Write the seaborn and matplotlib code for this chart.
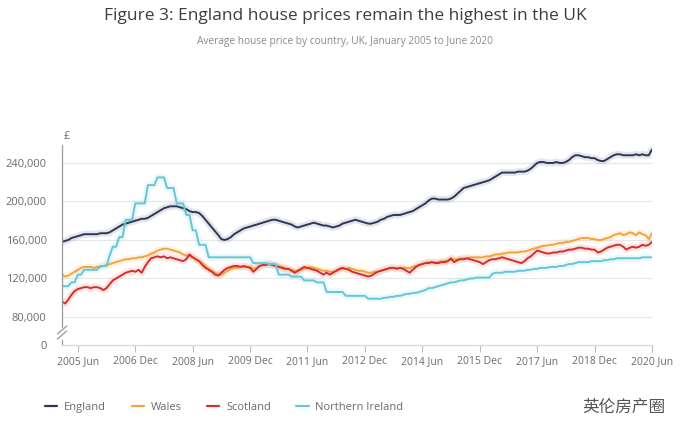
import pandas as pd
import numpy as np
import seaborn as sns
import matplotlib.pyplot as plt
from matplotlib.lines import Line2D

# average house price, thousands of pounds, monthly Jan 2005 - Jun 2020
england = [158, 159, 160, 162, 163, 164, 165, 166, 166, 166, 166, 166,
           167, 167, 167, 168, 170, 172, 174, 176, 177, 178, 179, 180,
           181, 182, 182, 183, 185, 187, 189, 191, 193, 194, 195, 195,
           195, 194, 193, 192, 190, 189, 189, 188, 185, 181, 177, 173,
           169, 165, 161, 160, 161, 163, 166, 168, 170, 172, 173, 174,
           175, 176, 177, 178, 179, 180, 181, 181, 180, 179, 178, 177,
           176, 174, 173, 174, 175, 176, 177, 178, 177, 176, 175, 175,
           174, 173, 174, 175, 177, 178, 179, 180, 181, 180, 179, 178,
           177, 177, 178, 179, 181, 182, 184, 185, 186, 186, 186, 187,
           188, 189, 190, 192, 194, 196, 198, 201, 203, 203, 202, 202,
           202, 202, 203, 205, 208, 211, 214, 215, 216, 217, 218, 219,
           220, 221, 222, 224, 226, 228, 230, 230, 230, 230, 230, 231,
           231, 231, 232, 234, 237, 240, 241, 241, 240, 240, 240, 241,
           240, 240, 241, 243, 246, 248, 248, 247, 246, 246, 245, 245,
           243, 242, 242, 244, 246, 248, 249, 249, 248, 248, 248, 248,
           249, 248, 249, 248, 248, 254]
wales = [124, 122, 123, 125, 127, 129, 131, 132, 132, 132, 131, 132,
         132, 133, 134, 135, 136, 137, 138, 139, 140, 140, 141, 141,
         142, 142, 143, 144, 146, 147, 149, 150, 151, 151, 150, 149,
         148, 147, 145, 144, 143, 142, 140, 138, 136, 133, 130, 128,
         126, 124, 124, 126, 128, 130, 131, 131, 132, 132, 132, 132,
         130, 131, 133, 134, 135, 135, 134, 134, 133, 132, 131, 130,
         129, 128, 128, 129, 130, 131, 132, 131, 130, 129, 128, 128,
         127, 127, 128, 129, 130, 130, 131, 130, 129, 128, 128, 127,
         126, 126, 127, 127, 128, 129, 130, 131, 131, 131, 131, 131,
         131, 131, 132, 133, 134, 135, 136, 137, 137, 137, 137, 138,
         138, 139, 139, 140, 140, 141, 141, 141, 142, 142, 142, 142,
         142, 143, 143, 144, 145, 145, 146, 146, 147, 147, 147, 147,
         148, 148, 149, 150, 151, 152, 153, 154, 154, 155, 155, 156,
         157, 157, 158, 158, 159, 160, 161, 162, 162, 162, 161, 161,
         160, 160, 161, 162, 163, 165, 166, 167, 165, 166, 168, 167,
         165, 168, 166, 165, 161, 167]
scotland = [96, 94, 98, 103, 107, 109, 110, 111, 111, 110, 111, 111,
            110, 108, 110, 114, 118, 120, 122, 124, 126, 127, 128, 127,
            129, 126, 132, 137, 141, 142, 143, 142, 143, 141, 142, 141,
            140, 139, 138, 140, 145, 142, 140, 138, 134, 131, 129, 127,
            124, 123, 126, 129, 131, 132, 133, 133, 132, 133, 132, 131,
            127, 130, 133, 134, 134, 135, 134, 133, 132, 131, 130, 130,
            128, 126, 128, 130, 132, 131, 130, 129, 128, 126, 124, 126,
            124, 126, 128, 130, 131, 130, 129, 127, 126, 125, 124, 123,
            122, 123, 125, 127, 128, 129, 130, 131, 131, 130, 131, 130,
            128, 126, 129, 132, 134, 135, 136, 136, 137, 136, 136, 137,
            137, 138, 141, 137, 139, 140, 140, 141, 140, 139, 138, 137,
            135, 137, 139, 140, 140, 141, 142, 141, 140, 139, 138, 137,
            136, 138, 141, 143, 146, 149, 148, 147, 146, 146, 147, 147,
            148, 148, 149, 150, 150, 151, 152, 152, 151, 151, 150, 150,
            147, 148, 150, 152, 153, 154, 155, 155, 153, 150, 152, 153,
            152, 153, 155, 154, 155, 158]
n_ireland = [112, 112, 112, 116, 116, 124, 124, 129, 129, 129, 129, 129,
             133, 133, 133, 144, 153, 153, 163, 163, 181, 181, 181, 198,
             198, 198, 198, 217, 217, 217, 225, 225, 225, 214, 214, 214,
             198, 198, 198, 186, 186, 170, 170, 155, 155, 155, 142, 142,
             142, 142, 142, 142, 142, 142, 142, 142, 142, 142, 142, 142,
             136, 136, 136, 136, 136, 135, 135, 135, 124, 124, 124, 124,
             122, 122, 122, 122, 118, 118, 118, 118, 116, 116, 116, 106,
             106, 106, 106, 106, 106, 102, 102, 102, 102, 102, 102, 102,
             99, 99, 99, 99, 99, 100, 100, 101, 101, 102, 102, 103,
             104, 104, 105, 105, 106, 107, 108, 110, 110, 111, 112, 113,
             114, 115, 116, 116, 117, 118, 118, 119, 120, 120, 121, 121,
             121, 121, 121, 125, 126, 126, 126, 127, 127, 127, 127, 128,
             128, 128, 129, 129, 130, 130, 131, 131, 131, 132, 132, 132,
             133, 133, 134, 135, 135, 136, 137, 137, 137, 137, 138, 138,
             138, 138, 139, 139, 140, 140, 141, 141, 141, 141, 141, 141,
             141, 141, 142, 142, 142, 142]

countries = ['England', 'Wales', 'Scotland', 'Northern Ireland']
colors = ['#2f3758', '#f2a43a', '#d0312d', '#64c6d6']
x_tick_labels = ['2005 Jun', '2006 Dec', '2008 Jun', '2009 Dec', '2011 Jun', '2012 Dec',
                 '2014 Jun', '2015 Dec', '2017 Jun', '2018 Dec', '2020 Jun']
y_tick_labels = ['0', '80,000', '120,000', '160,000', '200,000', '240,000']

months = pd.date_range('2005-01-01', periods=len(england), freq='MS')
df = pd.concat([
    pd.DataFrame({'Month': months, 'Price': np.array(vals) * 1000, 'Country': name})
    for name, vals in zip(countries, [england, wales, scotland, n_ireland])
])

sns.set_style('white')
plt.rcParams['font.family'] = ['Open Sans', 'DejaVu Sans']

fig = plt.figure(figsize=(6.86, 4.34), dpi=100)
ax = fig.add_axes([0.0904, 0.205, 0.860, 0.461])

# soft glow behind each line, then the line itself
sns.lineplot(data=df, x='Month', y='Price', hue='Country', hue_order=countries,
             palette=colors, linewidth=5, alpha=0.12, legend=False, ax=ax)
sns.lineplot(data=df, x='Month', y='Price', hue='Country', hue_order=countries,
             palette=colors, linewidth=1.4, legend=False, ax=ax)

# broken y axis: the "0" tick sits just below 80,000
y_bottom = 50900
ax.set_ylim(y_bottom, 258700)
ax.set_yticks([y_bottom, 80000, 120000, 160000, 200000, 240000])
ax.set_yticklabels(y_tick_labels)
ax.set_xlim(months[0], months[-1])
tick_dates = pd.to_datetime(x_tick_labels, format='%Y %b')
ax.set_xticks(tick_dates)
ax.set_xticklabels(x_tick_labels)
ax.set_xlabel('')
ax.set_ylabel('')

for v in [80000, 120000, 160000, 200000, 240000]:
    ax.axhline(v, color='#e8e8e8', linewidth=0.9, zorder=0)

for s in ['top', 'right', 'left']:
    ax.spines[s].set_visible(False)
ax.spines['bottom'].set_color('#d9d9d9')
ax.spines['bottom'].set_linewidth(0.9)

ax.tick_params(axis='y', length=0, pad=11, labelsize=8, labelcolor='#6b6b6b')
ax.tick_params(axis='x', length=5, width=0.8, color='#bdbdbd', pad=3,
               labelsize=7.5, labelcolor='#6b6b6b', bottom=True)

# y axis line with break marks
axc = '#9a9a9a'
ax.plot([0, 0], [1, 0.09], transform=ax.transAxes, color=axc, lw=0.9, clip_on=False)
ax.plot([0, 0], [0.025, 0], transform=ax.transAxes, color=axc, lw=0.9, clip_on=False)
ax.plot([-0.008, 0.008], [0.03, 0.07], transform=ax.transAxes, color=axc, lw=0.9, clip_on=False)
ax.plot([-0.008, 0.008], [0.055, 0.095], transform=ax.transAxes, color=axc, lw=0.9, clip_on=False)
ax.text(0.002, 1.015, '£', transform=ax.transAxes, fontsize=8, color='#6b6b6b',
        ha='left', va='bottom')

fig.text(0.503, 0.962, 'Figure 3: England house prices remain the highest in the UK',
         ha='center', va='center', fontsize=12.5, color='#3d3d3d')
fig.text(0.503, 0.905, 'Average house price by country, UK, January 2005 to June 2020',
         ha='center', va='center', fontsize=7.3, color='#8a8a8a')

handles = [Line2D([0], [0], color=c, lw=1.6) for c in colors]
leg = fig.legend(handles, countries, loc='center left', bbox_to_anchor=(0.066, 0.062),
                 ncol=4, frameon=False, fontsize=8, handlelength=1.1,
                 handletextpad=0.6, columnspacing=2.3, borderpad=0, borderaxespad=0)
for t in leg.get_texts():
    t.set_color('#6b6b6b')

fig.text(0.97, 0.062, '英伦房产圈', ha='right', va='center', fontsize=12,
         color='#555555', family=['Noto Sans CJK SC', 'DejaVu Sans'])

fig.savefig('out.png', dpi=100)
